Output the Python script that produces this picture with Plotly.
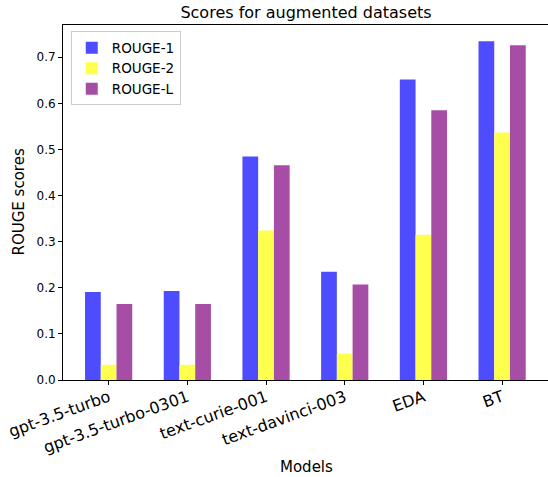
import plotly.graph_objects as go

models = ["gpt-3.5-turbo", "gpt-3.5-turbo-0301", "text-curie-001",
          "text-davinci-003", "EDA", "BT"]
rouge1 = [0.191, 0.193, 0.485, 0.235, 0.652, 0.735]
rouge2 = [0.033, 0.033, 0.324, 0.057, 0.315, 0.537]
rougeL = [0.165, 0.165, 0.466, 0.207, 0.585, 0.726]
series_names = ["ROUGE-1", "ROUGE-2", "ROUGE-L"]
series_colors = ["rgb(77,77,255)", "rgb(255,255,77)", "rgb(166,77,166)"]

FONT = "DejaVu Sans"
W, H = 548, 477

fig = go.Figure()
for name, vals, col in zip(series_names, [rouge1, rouge2, rougeL], series_colors):
    fig.add_trace(go.Bar(x=list(range(len(models))), y=vals, name=name,
                         marker=dict(color=col, line=dict(width=0))))

fig.update_layout(
    width=W, height=H,
    margin=dict(l=63, r=0, t=25, b=97),
    paper_bgcolor="white", plot_bgcolor="white",
    barmode="group", bargap=0.4, bargroupgap=0,
    font=dict(family=FONT, color="black"),
    title=dict(text="Scores for augmented datasets", x=306 / W, xanchor="center",
               y=1 - 12 / H, yanchor="middle",
               font=dict(size=16, family=FONT, color="black")),
    legend=dict(x=0.016, y=0.982, xanchor="left", yanchor="top",
                bgcolor="rgba(255,255,255,0.8)", bordercolor="#cccccc", borderwidth=1,
                font=dict(size=13.5, family=FONT), tracegroupgap=0,
                itemwidth=30),
    showlegend=True,
    annotations=[
        dict(text="Models", xref="paper", yref="paper", x=(306 - 63) / (W - 63),
             y=-(467 - 380) / 355, xanchor="center", yanchor="middle",
             showarrow=False, font=dict(size=15, family=FONT)),
        dict(text="ROUGE scores", xref="paper", yref="paper", x=-(63 - 18) / (W - 63),
             y=0.5, xanchor="center", yanchor="middle", textangle=-90,
             showarrow=False, font=dict(size=15, family=FONT)),
    ],
)
fig.update_xaxes(
    range=[-0.58, 5.583], tickvals=list(range(len(models))), ticktext=models,
    tickangle=-20, tickfont=dict(size=16, family=FONT), ticklabelstandoff=-3,
    ticks="outside", ticklen=4, tickwidth=1, tickcolor="black",
    showline=True, linecolor="black", linewidth=1, mirror=True,
    showgrid=False, zeroline=False, automargin=False,
)
fig.update_yaxes(
    range=[0, 0.77], dtick=0.1, tick0=0, tickformat=".1f",
    tickfont=dict(size=12, family=FONT),
    ticks="outside", ticklen=4, tickwidth=1, tickcolor="black",
    showline=True, linecolor="black", linewidth=1, mirror=False,
    showgrid=False, zeroline=False, automargin=False,
)

fig.write_html("out.html", config={"displayModeBar": False},
               post_script="document.body.style.margin='0px';document.body.style.overflow='hidden';")
